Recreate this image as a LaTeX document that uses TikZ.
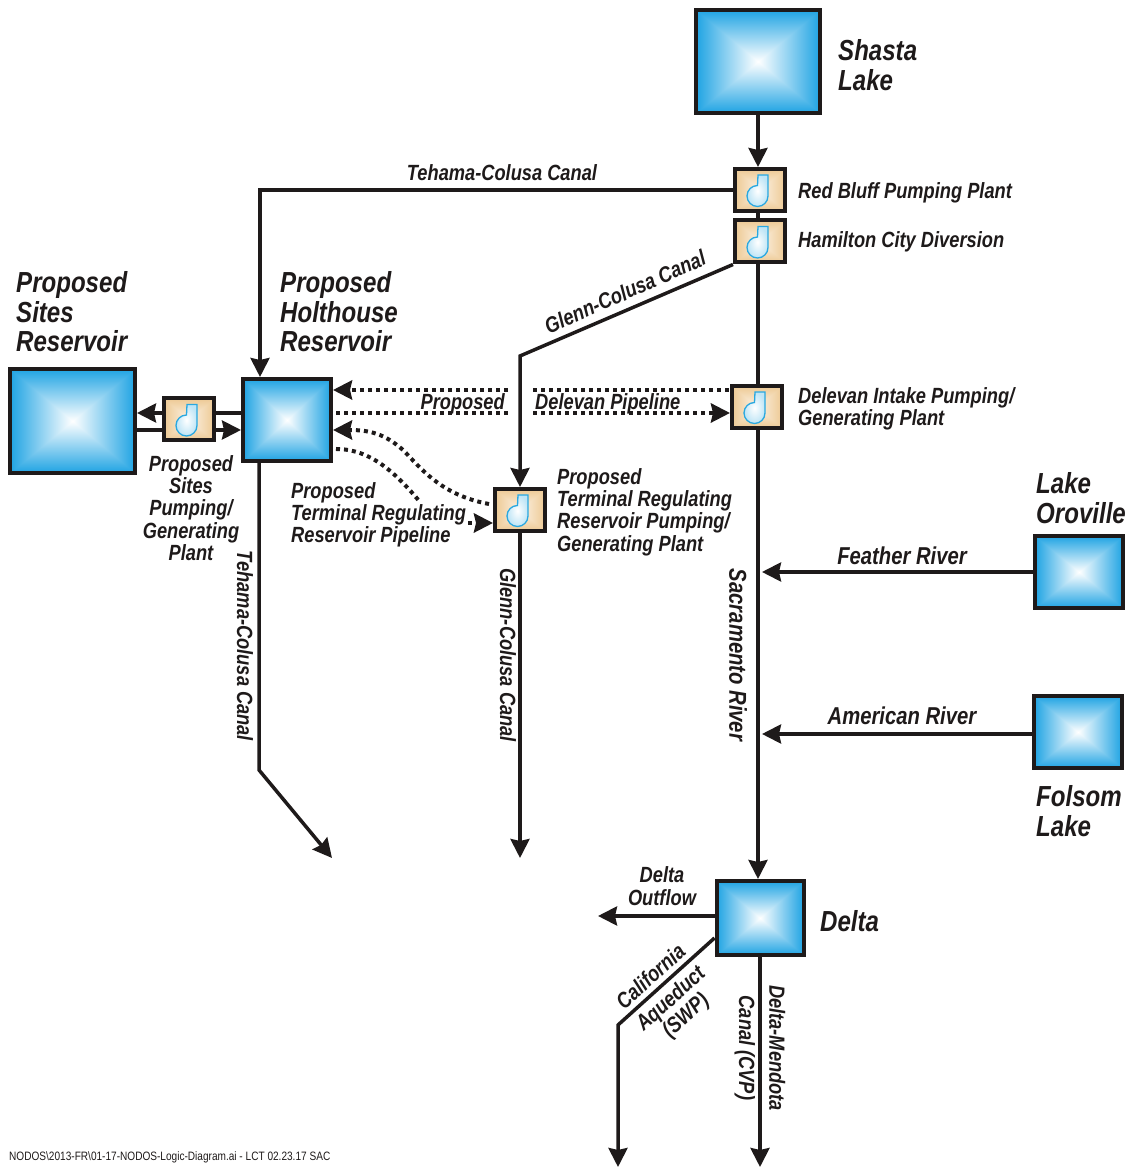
\documentclass[tikz,border=0pt]{standalone}
\usepackage{fontspec}
\setmainfont[FakeStretch=0.83]{Liberation Sans}
\definecolor{DIAink}{HTML}{1E1A1A}
\definecolor{DIAblue}{HTML}{29A8E0}
\usetikzlibrary{arrows.meta, positioning}
\pgfdeclarefunctionalshading{lakeshade}{\pgfpoint{-50bp}{-50bp}}{\pgfpoint{50bp}{50bp}}{}{
   abs exch abs 2 copy lt {exch} if pop 25 div dup 1 gt {pop 1} if
   dup 0.88 mul 1 exch sub exch dup 0.36 mul 1 exch sub exch 0.11 mul 1 exch sub
}
\pgfdeclarefunctionalshading{pumpshade}{\pgfpoint{-50bp}{-50bp}}{\pgfpoint{50bp}{50bp}}{}{
   abs exch abs 2 copy lt {exch} if pop 25 div dup 1 gt {pop 1} if
   dup 0.06 mul 0.99 exch sub exch dup 0.16 mul 0.95 exch sub exch 0.32 mul 0.90 exch sub
}
\tikzset{
   lake/.style={draw=DIAink, line width=4pt, inner sep=0pt, shading=lakeshade},
   pump/.style={draw=DIAink, line width=4pt, inner sep=0pt, shading=pumpshade,
      minimum width=50pt, minimum height=42pt},
   flow/.style={draw=DIAink, line width=3.5pt},
   tip/.style={-{Stealth[length=19pt,width=19pt,inset=2pt]}},
   pipeline/.style={flow, line width=4pt, dash pattern=on 4pt off 4pt},
   lbl/.style={inner sep=0pt, align=left, text=DIAink,
      font=\fontsize{22}{22.3}\selectfont\bfseries\itshape},
   riverlbl/.style={lbl, font=\fontsize{24.4}{26}\selectfont\bfseries\itshape},
   bigl/.style={inner sep=0pt, align=left, text=DIAink,
      font=\fontsize{29}{29.5}\selectfont\bfseries\itshape},
   impeller/.pic={
      \shadedraw[draw=DIAblue, line width=1.3pt, inner color=white, outer color=DIAblue!30]
         (-2,15) -- (8,15) -- (8,-6) arc[start angle=0, end angle=-270, radius=10.5] -- cycle;
   }
}
\begin{document}
\begin{tikzpicture}[x=1pt, y=1pt]
   \useasboundingbox (0,0) rectangle (1129,1167);
   % Lakes and reservoirs
   \node[lake, minimum width=124pt, minimum height=103pt] (shasta) at (758,1105.5) {};
   \node[lake, minimum width=125pt, minimum height=104pt] (sitesres) at (72.5,746) {};
   \node[lake, minimum width=88pt, minimum height=82pt] (holthouse) at (287,747) {};
   \node[lake, minimum width=88pt, minimum height=72pt] (oroville) at (1079,595) {};
   \node[lake, minimum width=88pt, minimum height=72pt] (folsom) at (1078,435) {};
   \node[lake, minimum width=87pt, minimum height=74pt] (delta) at (760,249) {};
   % Pumps
   \node[pump] (redbluff) at (760,977) {};
   \node[pump] (hamilton) at (760,925.5) {};
   \node[pump] (delevan) at (757,760) {};
   \node[pump] (terminal) at (520,657) {};
   \node[pump] (sitespump) at (189,747.5) {};
   \foreach \p in {redbluff, hamilton, delevan, terminal, sitespump}
      \pic at (\p) {impeller};
   % Free ends
   \coordinate (glennbend) at (520,811);
   \coordinate (glennend) at (520,309);
   \coordinate (tehamabend) at (259,397);
   \coordinate (tehamaend) at (332,309);
   \coordinate (featherend) at (762,595);
   \coordinate (americanend) at (762,433);
   \coordinate (outflowend) at (598,251);
   \coordinate (aqueductbend) at (618,142);
   \coordinate (aqueductend) at (618,0);
   \coordinate (mendotaend) at (760,0);
   % Sacramento River
   \draw[flow, tip] (shasta.south) -- (shasta.south |- redbluff.north);
   \draw[flow] (shasta.south |- redbluff.south) -- (shasta.south |- hamilton.north);
   \draw[flow] (shasta.south |- hamilton.south) -- (shasta.south |- delevan.north);
   \draw[flow, tip] (shasta.south |- delevan.south) -- (shasta.south |- delta.north);
   % Canals
   \draw[flow, tip] (redbluff.west) -| ([xshift=-27pt]holthouse.north);
   \draw[flow, tip] (holthouse.south -| tehamabend) -- (tehamabend) -- (tehamaend);
   \draw[flow, tip] (hamilton.south west) -- (glennbend) -- (terminal.north);
   \draw[flow, tip] (terminal.south) -- (glennend);
   % Tributaries
   \draw[flow, tip] (oroville.west) -- (featherend);
   \draw[flow, tip] (folsom.west |- americanend) -- (americanend);
   % Delta exports
   \draw[flow, tip] (delta.west |- outflowend) -- (outflowend);
   \draw[flow, tip] ([yshift=-20pt]delta.west) -- (aqueductbend) -- (aqueductend);
   \draw[flow, tip] (delta.south) -- (mendotaend);
   % Sites pump
   \draw[flow, tip] ([yshift=6.5pt]sitespump.west) -- ([yshift=6.5pt]sitespump.west -| sitesres.east);
   \draw[flow] ([yshift=-10.5pt]sitespump.west -| sitesres.east) -- ([yshift=-10.5pt]sitespump.west);
   \draw[flow, tip] ([yshift=-10.5pt]sitespump.east) -- ([yshift=-10.5pt]sitespump.east -| holthouse.west);
   \draw[flow] ([yshift=6.5pt]sitespump.east -| holthouse.west) -- ([yshift=6.5pt]sitespump.east);
   % Delevan pipeline, split at the canal
   \coordinate (pipeA) at (508,777);
   \coordinate (pipeB) at (533,777);
   \coordinate (pipeC) at (508,754);
   \coordinate (pipeD) at (533,754);
   \draw[pipeline, tip] (pipeA) -- (holthouse.east |- pipeA);
   \draw[pipeline] (pipeB) -- (delevan.west |- pipeB);
   \draw[pipeline] ([xshift=3pt]holthouse.east |- pipeC) -- (pipeC);
   \draw[pipeline, tip] (pipeD) -- (delevan.west |- pipeD);
   % Terminal regulating pipeline
   \draw[pipeline, tip] ([xshift=-4pt,yshift=6pt]terminal.west) .. controls (440,672) and (420,700) .. (403,717)
      .. controls (385,733) and (370,737) .. ([yshift=-10pt]holthouse.east);
   \coordinate (termA) at (420,665);
   \coordinate (termB) at (468,644);
   \draw[pipeline] ([xshift=3pt,yshift=-29pt]holthouse.east) .. controls (370,718) and (395,695) .. (termA);
   \draw[pipeline, tip] (termB) -- (termB -| terminal.west);
   % Big labels
   \node[bigl, anchor=west] (shastalbl) at (838,1102) {Shasta\\Lake};
   \node[bigl, anchor=west] (sitesreslbl) at (16,855) {Proposed\\Sites\\Reservoir};
   \node[bigl, anchor=west] (holthouselbl) at (280,855) {Proposed\\Holthouse\\Reservoir};
   \node[bigl, anchor=west] (orovillelbl) at (1036,669) {Lake\\Oroville};
   \node[bigl, anchor=west] (folsomlbl) at (1036,356) {Folsom\\Lake};
   \node[bigl, anchor=west] (deltalbl) at (820,246) {Delta};
   % Small labels
   \node[lbl] (tehamalbl) at (502,994) {Tehama-Colusa Canal};
   \node[lbl, anchor=west] (redblufflbl) at (798,974) {Red Bluff Pumping Plant};
   \node[lbl, anchor=west] (hamiltonlbl) at (798,925) {Hamilton City Diversion};
   \node[lbl, rotate=24] (glennlbl) at (625,875) {Glenn-Colusa Canal};
   \node[lbl, anchor=east] (proposedlbl) at (505,763) {Proposed};
   \node[lbl, anchor=west] (pipelbl) at (535,763) {Delevan Pipeline};
   \node[lbl, anchor=west] (delevanlbl) at (798,758) {Delevan Intake Pumping/\\Generating Plant};
   \node[lbl, align=center] (sitespumplbl) at (191,659) {Proposed\\Sites\\Pumping/\\Generating\\Plant};
   \node[lbl, anchor=west] (termpipelbl) at (291,652) {Proposed\\Terminal Regulating\\Reservoir Pipeline};
   \node[lbl, anchor=west] (termpumplbl) at (557,655) {Proposed\\Terminal Regulating\\Reservoir Pumping/\\Generating Plant};
   \node[riverlbl] (featherlbl) at (902,611) {Feather River};
   \node[riverlbl] (americanlbl) at (902,451) {American River};
   \node[lbl, align=center] (outflowlbl) at (662,281) {Delta\\Outflow};
   \node[lbl, rotate=-90] (tehamasouth) at (245,521) {Tehama-Colusa Canal};
   \node[lbl, rotate=-90] (glennsouth) at (508,512) {Glenn-Colusa Canal};
   \node[riverlbl, rotate=-90] (sacramentolbl) at (738,512) {Sacramento River};
   \node[lbl, rotate=42, align=center] (aqueductlbl) at (669,170) {California\\[7pt]Aqueduct\\(SWP)};
   \node[lbl, rotate=-90, align=center] (mendotalbl) at (760,119) {Delta-Mendota\\[8pt]Canal (CVP)};
   \node[inner sep=0pt, anchor=west, text=DIAink, font=\fontsize{12.15}{14}\selectfont] (pathlbl) at (9,10)
      {NODOS\textbackslash 2013-FR\textbackslash 01-17-NODOS-Logic-Diagram.ai - LCT 02.23.17 SAC};
\end{tikzpicture}
\end{document}
